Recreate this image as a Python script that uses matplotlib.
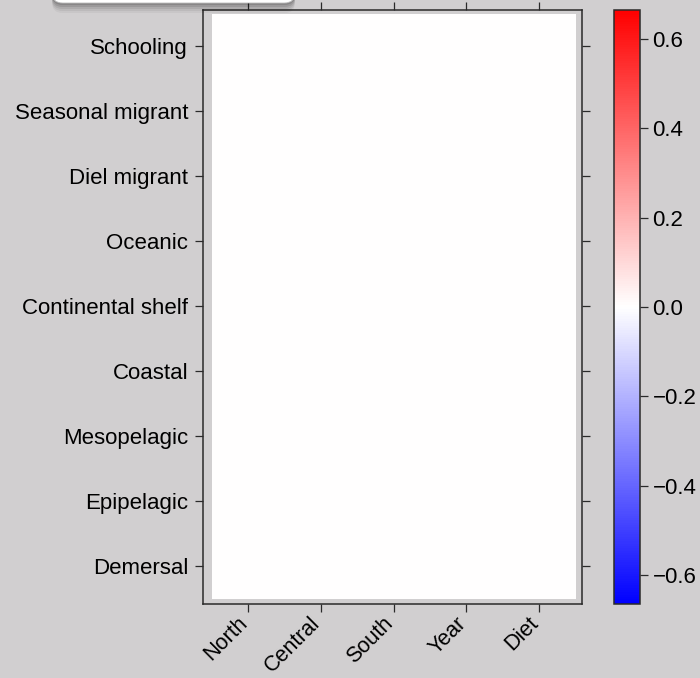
import numpy as np
import matplotlib.pyplot as plt
from matplotlib.patches import FancyBboxPatch
from matplotlib.transforms import ScaledTranslation

# data
rows = ["Demersal", "Epipelagic", "Mesopelagic", "Coastal", "Continental shelf",
        "Oceanic", "Diel migrant", "Seasonal migrant", "Schooling"]
cols = ["North", "Central", "South", "Year", "Diet"]
values = [
    [0.0, 0.0, 0.0, 0.0, 0.0],
    [0.0, 0.0, 0.0, 0.0, 0.0],
    [0.0, 0.0, 0.0, 0.0, 0.0],
    [0.0, 0.0, 0.0, 0.0, 0.0],
    [0.0, 0.0, 0.0, 0.0, 0.0],
    [0.0, 0.0, 0.0, 0.0, 0.0],
    [0.0, 0.0, 0.0, 0.0, 0.0],
    [0.0, 0.0, 0.0, 0.0, 0.0],
    [0.0, 0.0, 0.0, 0.0, 0.0],
]
cbar_ticks = [-0.6, -0.4, -0.2, 0.0, 0.2, 0.4, 0.6]
vlim = 0.665

plt.rcParams['font.family'] = ['Liberation Sans', 'DejaVu Sans']
bg = '#d1cfd0'
edge = '#2a2a2a'

fig = plt.figure(figsize=(7, 6.78), dpi=100, facecolor=bg)
ax = fig.add_axes([0.2905, 0.1091, 0.5414, 0.8762], facecolor=bg)
cax = fig.add_axes([0.8771, 0.1091, 0.0372, 0.8762])

Z = np.array(values)
xe = np.arange(len(cols) + 1) - 0.5
ye = np.arange(len(rows) + 1) - 0.5
mesh = ax.pcolormesh(xe, ye, Z, cmap='bwr', vmin=-vlim, vmax=vlim)

ax.set_xlim(-0.614, 4.592)
ax.set_ylim(-0.585, 8.555)
ax.set_xticks(range(len(cols)))
ax.set_xticklabels(cols, rotation=45, ha='right')
ax.set_yticks(range(len(rows)))
ax.set_yticklabels(rows)
ax.tick_params(axis='both', direction='out', length=6, width=0.9, color=edge,
               labelsize=16, pad=5, top=True, right=True)
ax.tick_params(axis='x', pad=0.5, labelsize=15.5)
shift = ScaledTranslation(4 / 100, 0, fig.dpi_scale_trans)
for lab in ax.get_xticklabels():
    lab.set_transform(lab.get_transform() + shift)
for s in ax.spines.values():
    s.set_color(edge)
    s.set_linewidth(1.1)

cb = fig.colorbar(mesh, cax=cax, ticks=cbar_ticks)
cb.ax.set_yticklabels(['\u22120.6', '\u22120.4', '\u22120.2', '0.0', '0.2', '0.4', '0.6'])
cb.ax.tick_params(direction='out', length=6, width=0.9, color=edge, labelsize=16, pad=3)
cb.outline.set_edgecolor(edge)
cb.outline.set_linewidth(1.1)

# rounded box peeking in at the top left, with soft shadow
W, H = 700.0, 678.0
for i, a in enumerate([0.04, 0.06, 0.08, 0.10, 0.12]):
    off = 10 - 2 * i
    sh = FancyBboxPatch((52 / W, (H - 3 - off) / H), 243 / W, 40 / H,
                        boxstyle='round,pad=0,rounding_size=0.015',
                        transform=fig.transFigure, facecolor='black', edgecolor='none',
                        alpha=a, zorder=5)
    fig.add_artist(sh)
box = FancyBboxPatch((52 / W, (H - 3) / H), 243 / W, 40 / H,
                     boxstyle='round,pad=0,rounding_size=0.015',
                     transform=fig.transFigure, facecolor='white', edgecolor='#bbbbbb',
                     linewidth=0.6, zorder=6)
fig.add_artist(box)

fig.savefig('out.png', dpi=100, facecolor=bg)
